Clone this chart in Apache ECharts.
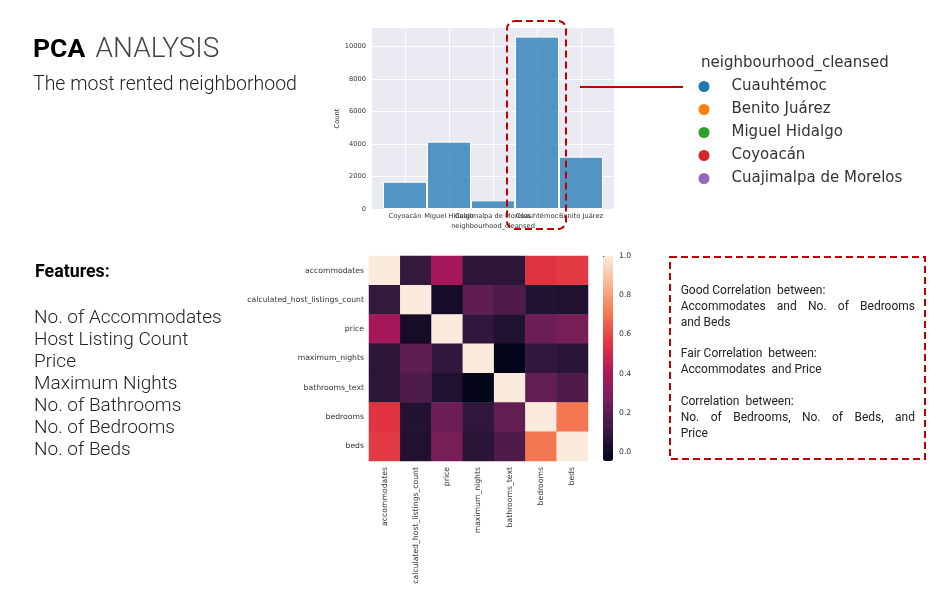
<!DOCTYPE html>
<html><head><meta charset="utf-8">
<script src="https://cdn.jsdelivr.net/npm/echarts@6/dist/echarts.min.js"></script>
<style>html,body{margin:0;padding:0;background:#fff}#c{width:950px;height:594px}</style>
</head><body><div id="c"></div><script>
// ---- data ----
const neighbourhoods = ['Coyoacán', 'Miguel Hidalgo', 'Cuajimalpa de Morelos', 'Cuauhtémoc', 'Benito Juárez'];
const listingCounts = [1680, 4150, 535, 10620, 3220];
const countTicks = [0, 2000, 4000, 6000, 8000, 10000];
const legendNames = ['Cuauhtémoc', 'Benito Juárez', 'Miguel Hidalgo', 'Coyoacán', 'Cuajimalpa de Morelos'];
const legendColors = ['#1f77b4', '#ff7f0e', '#2ca02c', '#d62728', '#9467bd'];

const features = ['accommodates', 'calculated_host_listings_count', 'price', 'maximum_nights', 'bathrooms_text', 'bedrooms', 'beds'];
const corrAccommodates = [1.00, 0.10, 0.38, 0.08, 0.08, 0.55, 0.57];
const corrHostListings = [0.10, 1.00, 0.01, 0.21, 0.17, 0.05, 0.04];
const corrPrice        = [0.38, 0.01, 1.00, 0.09, 0.04, 0.24, 0.27];
const corrMaxNights    = [0.08, 0.21, 0.09, 1.00, -0.046, 0.09, 0.07];
const corrBathrooms    = [0.08, 0.17, 0.04, -0.046, 1.00, 0.22, 0.17];
const corrBedrooms     = [0.55, 0.05, 0.24, 0.09, 0.22, 1.00, 0.70];
const corrBeds         = [0.57, 0.04, 0.27, 0.07, 0.17, 0.70, 1.00];
const colorbarTicks = [0.0, 0.2, 0.4, 0.6, 0.8, 1.0];

const featureList = ['No. of Accommodates', 'Host Listing Count', 'Price', 'Maximum Nights', 'No. of Bathrooms', 'No. of Bedrooms', 'No. of Beds'];
const noteLines = [
  ['Good Correlation  between:', false],
  ['Accommodates and No. of Bedrooms', true],
  ['and Beds', false],
  ['', false],
  ['Fair Correlation  between:', false],
  ['Accommodates  and Price', false],
  ['', false],
  ['Correlation  between:', false],
  ['No. of Bedrooms, No. of Beds, and', true],
  ['Price', false]
];

// ---- build ----
const corrRows = [corrAccommodates, corrHostListings, corrPrice, corrMaxNights, corrBathrooms, corrBedrooms, corrBeds];
const heatData = [];
corrRows.forEach((row, y) => row.forEach((v, x) => heatData.push([x, y, v])));
const vmin = Math.min(...heatData.map(d => d[2]));
const vmax = Math.max(...heatData.map(d => d[2]));
const rocket = ['#03051A', '#35193E', '#701F57', '#AD1759', '#E13342', '#F37651', '#F6B48F', '#FAEBDD'];

const MPL = 'DejaVu Sans';
const SLIDE = 'Roboto';
const txt = '#333';

const graphics = [];
// Title
graphics.push({type: 'text', style: {x: 33, y: 50, text: 'PCA', fontFamily: SLIDE, fontWeight: 'bold', fontSize: 26.5, fill: '#000', verticalAlign: 'middle'}});
graphics.push({type: 'text', style: {x: 95.5, y: 50, text: 'ANALYSIS', fontFamily: SLIDE, fontWeight: 300, fontSize: 28, fill: '#444', verticalAlign: 'middle'}});
graphics.push({type: 'text', style: {x: 33, y: 85, text: 'The most rented neighborhood', fontFamily: SLIDE, fontWeight: 300, fontSize: 19.5, fill: '#222', verticalAlign: 'middle'}});
graphics.push({type: 'text', style: {x: 35, y: 273, text: 'Features:', fontFamily: SLIDE, fontWeight: 'bold', fontSize: 17.8, fill: '#000', verticalAlign: 'middle'}});
featureList.forEach((t, i) => graphics.push({type: 'text', style: {x: 34, y: 318.3 + i * 22, text: t, fontFamily: SLIDE, fontWeight: 300, fontSize: 19, fill: '#222', verticalAlign: 'middle'}}));

// legend title
graphics.push({type: 'text', style: {x: 701, y: 63, text: 'neighbourhood_cleansed', fontFamily: MPL, fontSize: 15, fill: txt, verticalAlign: 'middle'}});

// red annotations
graphics.push({type: 'rect', z: 100, shape: {x: 507, y: 21, width: 59, height: 208, r: 8}, style: {fill: 'none', stroke: '#c00000', lineWidth: 2, lineDash: [7, 4]}});
graphics.push({type: 'line', z: 100, shape: {x1: 580, y1: 87, x2: 683, y2: 87}, style: {stroke: '#c00000', lineWidth: 2}});
graphics.push({type: 'rect', z: 100, shape: {x: 670, y: 257, width: 255, height: 202}, style: {fill: 'none', stroke: '#c00000', lineWidth: 2, lineDash: [7, 4]}});

// notes text
const measureCtx = document.createElement('canvas').getContext('2d');
measureCtx.font = '12px Roboto';
const noteX = 680.7, noteW = 234.3;
noteLines.forEach(([t, justify], k) => {
  const y = 290.7 + k * 15.9;
  if (!t) return;
  if (!justify) {
    graphics.push({type: 'text', style: {x: noteX, y, text: t, fontFamily: SLIDE, fontSize: 12, fill: '#222', verticalAlign: 'middle'}});
  } else {
    const words = t.split(' ');
    const widths = words.map(w => measureCtx.measureText(w).width);
    const gap = (noteW - widths.reduce((a, b) => a + b, 0)) / (words.length - 1);
    let x = noteX;
    words.forEach((w, i) => {
      graphics.push({type: 'text', style: {x, y, text: w, fontFamily: SLIDE, fontSize: 12, fill: '#222', verticalAlign: 'middle'}});
      x += widths[i] + gap;
    });
  }
});

const chart = echarts.init(document.getElementById('c'), null, {renderer: 'canvas'});
chart.setOption({
  backgroundColor: '#fff',
  animation: false,
  textStyle: {fontFamily: MPL},
  grid: [
    {left: 372, top: 28, width: 242, height: 181, show: true, backgroundColor: '#eaeaf2', borderWidth: 0},
    {left: 369, top: 256, width: 219, height: 205},
    {left: 603, top: 256, width: 10, height: 205}
  ],
  xAxis: [
    {gridIndex: 0, type: 'value', min: -0.75, max: 4.75,
     name: 'neighbourhood_cleansed', nameLocation: 'middle', nameGap: 14,
     nameTextStyle: {fontSize: 6.7, color: txt, fontFamily: MPL},
     axisLine: {show: false},
     axisTick: {show: false, customValues: neighbourhoods.map((_, i) => i)},
     axisLabel: {customValues: neighbourhoods.map((_, i) => i), formatter: v => neighbourhoods[v] || '', fontSize: 6.7, color: txt, margin: 4, fontFamily: MPL},
     splitLine: {show: true, lineStyle: {color: '#fff', width: 1}}},
    {gridIndex: 1, type: 'category', data: features,
     axisLine: {show: false}, axisTick: {show: false},
     axisLabel: {rotate: 90, fontSize: 7.7, color: txt, margin: 6, interval: 0, fontFamily: MPL},
     splitLine: {show: false}},
    {gridIndex: 2, type: 'value', show: false, min: 0, max: 1}
  ],
  yAxis: [
    {gridIndex: 0, type: 'value', min: 0, max: 11150,
     name: 'Count', nameLocation: 'middle', nameGap: 30, nameRotate: 90,
     nameTextStyle: {fontSize: 6.7, color: txt, fontFamily: MPL},
     axisLine: {show: false},
     axisTick: {show: false, customValues: countTicks},
     axisLabel: {customValues: countTicks, formatter: v => String(v), fontSize: 6.7, color: txt, margin: 6, fontFamily: MPL},
     splitLine: {show: true, lineStyle: {color: '#fff', width: 1}}},
    {gridIndex: 1, type: 'category', data: features, inverse: true,
     axisLine: {show: false}, axisTick: {show: false},
     axisLabel: {fontSize: 7.7, color: txt, margin: 5, interval: 0, fontFamily: MPL},
     splitLine: {show: false}},
    {gridIndex: 2, type: 'value', position: 'right', min: vmin, max: vmax,
     axisLine: {show: false},
     axisTick: {show: true, inside: false, customValues: colorbarTicks, length: 3.5, lineStyle: {color: '#333', width: 1}},
     axisLabel: {customValues: colorbarTicks, formatter: v => v.toFixed(1), fontSize: 7.7, color: txt, margin: 6, fontFamily: MPL},
     splitLine: {show: false}}
  ],
  visualMap: {
    type: 'continuous', min: vmin, max: vmax, seriesIndex: 1,
    left: 603, top: 256, itemWidth: 10, itemHeight: 205, padding: 0,
    calculable: false, text: null, hoverLink: false, showLabel: false,
    inRange: {color: rocket}
  },
  legend: {
    data: legendNames, orient: 'vertical', left: 698.5, top: 79, padding: 0,
    itemWidth: 11, itemHeight: 11, itemGap: 8, icon: 'circle',
    selectedMode: false,
    formatter: '{a|{name}}',
    textStyle: {rich: {a: {fontSize: 15, fontFamily: MPL, color: txt, padding: [0, 0, 0, 17]}}}
  },
  graphic: graphics,
  series: [
    {type: 'bar', xAxisIndex: 0, yAxisIndex: 0, barWidth: '100%',
     data: listingCounts.map((v, i) => [i, v]),
     itemStyle: {color: 'rgba(31,119,180,0.75)', borderColor: '#fff', borderWidth: 1}},
    {type: 'heatmap', xAxisIndex: 1, yAxisIndex: 1, data: heatData, emphasis: {disabled: true}},
    ...legendNames.map((n, i) => ({type: 'scatter', name: n, xAxisIndex: 0, yAxisIndex: 0, data: [], itemStyle: {color: legendColors[i], opacity: 1}}))
  ]
});
</script></body></html>
